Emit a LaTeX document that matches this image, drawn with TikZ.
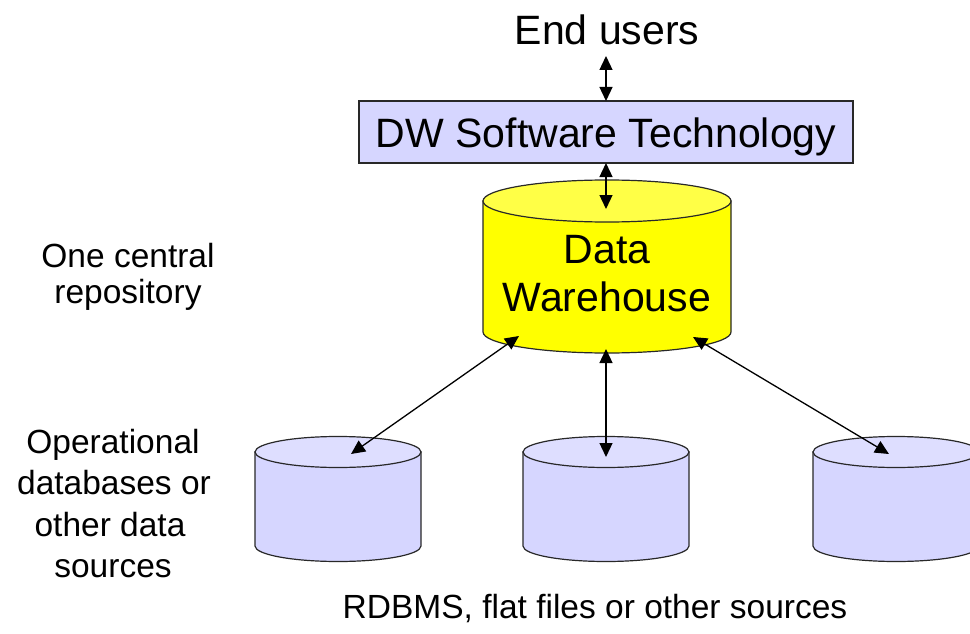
\documentclass[tikz,border=0pt]{standalone}
\usepackage{fontspec}
\setmainfont{Liberation Sans}
\usetikzlibrary{arrows.meta}

\definecolor{lavbody}{RGB}{214,214,255}
\definecolor{lavtop}{RGB}{222,222,255}
\definecolor{dwbody}{RGB}{255,255,0}
\definecolor{dwtop}{RGB}{255,255,70}
\definecolor{edge}{RGB}{40,40,40}

\tikzset{
  bigtext/.style={font=\fontsize{41}{48}\selectfont, inner sep=0pt},
  labeltext/.style={font=\fontsize{33.5}{40}\selectfont, inner sep=0pt, align=center},
  link/.style={line width=1.3pt, {Triangle[length=14pt,width=13pt]}-{Triangle[length=14pt,width=13pt]}},
  outline/.style={draw=edge, line width=1.2pt},
}

% cylinder: #1 centre x, #2 top-ellipse y, #3 bottom-ellipse y, #4 x radius, #5 y radius, #6 body, #7 top
\newcommand{\drum}[7]{%
  \path[outline, fill=#6] (#1-#4,#2) -- (#1-#4,#3)
    arc[start angle=180, end angle=0, x radius=#4, y radius=#5] -- (#1+#4,#2) -- cycle;
  \path[outline, fill=#7] (#1,#2) ellipse[x radius=#4, y radius=#5];
}

\begin{document}
\begin{tikzpicture}[x=1pt, y=-1pt]
\useasboundingbox (0,0) rectangle (970,634);

% top label and software layer
\node[bigtext, anchor=base] (users) at (607,45) {End users};
\node[draw=edge, line width=1.2pt, fill=lavbody, minimum width=494pt, minimum height=62pt, inner sep=0pt] (sw) at (606,132) {};
\node[bigtext, anchor=base] (swtext) at (606,147) {DW Software Technology};

% central warehouse
\drum{607}{201}{332}{124}{21}{dwbody}{dwtop}
\node[bigtext, anchor=base] (dwa) at (607,263) {Data};
\node[bigtext, anchor=base] (dwb) at (607,311) {Warehouse};

% source databases
\drum{338}{452}{546}{83}{15.5}{lavbody}{lavtop}
\drum{606}{452}{546}{83}{15.5}{lavbody}{lavtop}
\drum{896}{452}{546}{83}{15.5}{lavbody}{lavtop}

% connector ends
\coordinate (u1) at (606,56);
\coordinate (s1) at (606,101);
\coordinate (s2) at (606,163);
\coordinate (w0) at (606,209);
\coordinate (wl) at (519,336);
\coordinate (wm) at (606,349);
\coordinate (wr) at (693,337);
\coordinate (dl) at (351,454);
\coordinate (dm) at (606,457);
\coordinate (dr) at (889,454);

\draw[link] (u1) -- (s1);
\draw[link] (s2) -- (w0);
\draw[link] (wl) -- (dl);
\draw[link] (wm) -- (dm);
\draw[link] (wr) -- (dr);

% side and bottom labels
\node[labeltext, anchor=base] (rep1) at (128,267) {One central};
\node[labeltext, anchor=base] (rep2) at (128,303) {repository};
\node[labeltext, anchor=base] (op1) at (113,453) {Operational};
\node[labeltext, anchor=base] (op2) at (114,494) {databases or};
\node[labeltext, anchor=base] (op3) at (110,536) {other data};
\node[labeltext, anchor=base] (op4) at (113,577) {sources};
\node[labeltext, anchor=base] (src) at (595,618) {RDBMS, flat files or other sources};
\end{tikzpicture}
\end{document}
